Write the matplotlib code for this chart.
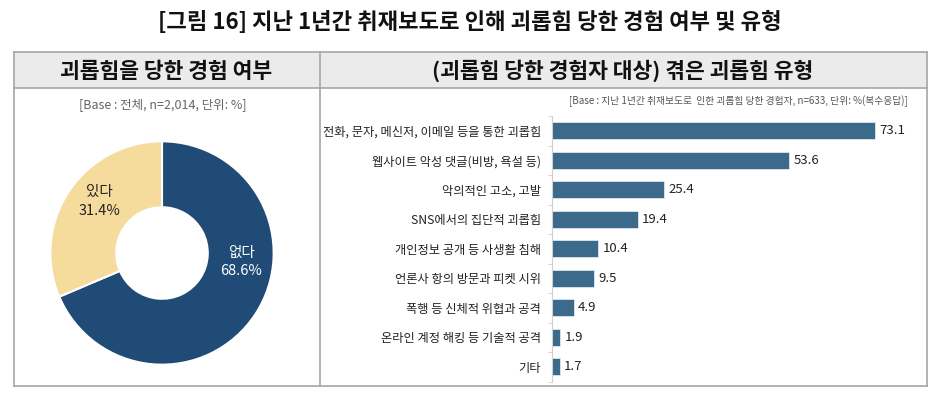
import matplotlib.pyplot as plt
from matplotlib.lines import Line2D
from matplotlib.patches import Rectangle

plt.rcParams['font.family'] = ['Noto Sans CJK KR', 'DejaVu Sans']

# 괴롭힘을 당한 경험 여부
pie_labels = ['없다', '있다']
pie_values = [68.6, 31.4]
pie_colors = ['#1f4b76', '#f5dc9d']

# 겪은 괴롭힘 유형 (복수응답)
types = ['전화, 문자, 메신저, 이메일 등을 통한 괴롭힘',
         '웹사이트 악성 댓글(비방, 욕설 등)',
         '악의적인 고소, 고발',
         'SNS에서의 집단적 괴롭힘',
         '개인정보 공개 등 사생활 침해',
         '언론사 항의 방문과 피켓 시위',
         '폭행 등 신체적 위협과 공격',
         '온라인 계정 해킹 등 기술적 공격',
         '기타']
type_values = [73.1, 53.6, 25.4, 19.4, 10.4, 9.5, 4.9, 1.9, 1.7]
bar_color = '#3b6a8b'

W, H = 944, 418
fig = plt.figure(figsize=(W / 100, H / 100), dpi=100)


def px(x, y):
    return x / W, 1 - y / H


def box(x, y, w, h):
    # axes position from pixel box (top-left origin)
    return [x / W, 1 - (y + h) / H, w / W, h / H]


# title
fig.text(*px(470, 22), '[그림 16] 지난 1년간 취재보도로 인해 괴롭힘 당한 경험 여부 및 유형',
         ha='center', va='center', fontsize=16, fontweight='bold', color='#111111')

# table frame
fig.add_artist(Rectangle(px(14, 88), (927 - 14) / W, 36 / H, transform=fig.transFigure,
                         facecolor='#ebebeb', edgecolor='none', zorder=0))
line_c = '#a6a6a6'
for (x0, y0, x1, y1) in [(14, 52, 927, 52), (14, 88, 927, 88), (14, 386, 927, 386),
                         (14, 52, 14, 386), (927, 52, 927, 386), (320, 52, 320, 386)]:
    a, b = px(x0, y0)
    c, d = px(x1, y1)
    fig.add_artist(Line2D([a, c], [b, d], transform=fig.transFigure, color=line_c, lw=1.2))

fig.text(*px(166, 71), '괴롭힘을 당한 경험 여부', ha='center', va='center',
         fontsize=15.5, fontweight='bold', color='#111111')
fig.text(*px(623, 71), '(괴롭힘 당한 경험자 대상) 겪은 괴롭힘 유형', ha='center', va='center',
         fontsize=15.5, fontweight='bold', color='#111111')

fig.text(*px(163, 105), '[Base : 전체, n=2,014, 단위: %]', ha='center', va='center',
         fontsize=9, color='#666666')
fig.text(*px(908, 101), '[Base : 지난 1년간 취재보도로  인한 괴롭힘 당한 경험자, n=633, 단위: %(복수응답)]',
         ha='right', va='center', fontsize=7, color='#555555')

# donut
ax1 = fig.add_axes(box(162 - 115, 253 - 115, 230, 230))
ax1.pie(pie_values, colors=pie_colors, startangle=90, counterclock=False,
        wedgeprops=dict(width=0.59, edgecolor='white', linewidth=1.5))
ax1.set_xlim(-1.03, 1.03)
ax1.set_ylim(-1.03, 1.03)
ax1.set_aspect('equal')
ax1.text(0.71, -0.08, f'{pie_labels[0]}\n{pie_values[0]}%', ha='center', va='center',
         fontsize=10.5, color='white', linespacing=1.45)
ax1.text(-0.56, 0.46, f'{pie_labels[1]}\n{pie_values[1]}%', ha='center', va='center',
         fontsize=10.5, color='#222222', linespacing=1.45)

# bars
ax2 = fig.add_axes(box(552, 116, 358, 265.5))
ypos = list(range(len(types)))
ax2.barh(ypos, type_values, height=0.58, color=bar_color, edgecolor='#dce6ee', linewidth=0.6)
for y, v in zip(ypos, type_values):
    ax2.text(v + 1.0, y, f'{v}', va='center', ha='left', fontsize=9.5, color='#222222')
ax2.set_xlim(0, 81)
ax2.set_ylim(len(types) - 0.5, -0.5)
ax2.set_yticks(ypos)
ax2.set_yticklabels(types, fontsize=8.8, color='#222222')
ax2.set_yticks([i + 0.5 for i in range(-1, len(types))], minor=True)
ax2.tick_params(axis='y', which='major', length=0, pad=8)
ax2.tick_params(axis='y', which='minor', length=3, color='#cccccc')
ax2.set_xticks([])
for s in ['top', 'right', 'bottom']:
    ax2.spines[s].set_visible(False)
ax2.spines['left'].set_color('#d0d0d0')

fig.savefig('out.png', dpi=100)
